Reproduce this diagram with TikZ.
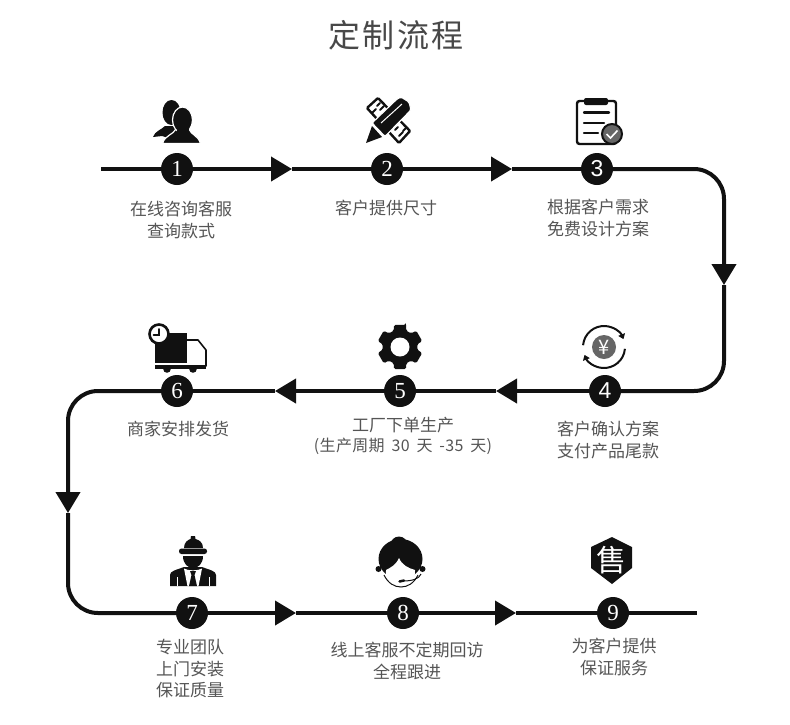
\documentclass[tikz,border=0pt]{standalone}
\usepackage{fontspec}
\setmainfont{Noto Sans CJK SC}
\newfontfamily\titlefont[LetterSpace=7]{Noto Sans CJK SC}
\newfontfamily\notefont[LetterSpace=2]{Noto Sans CJK SC}
\newfontfamily\digitfont{Liberation Serif}
\newfontfamily\sansdigit{Liberation Sans}
\usetikzlibrary{arrows.meta,positioning}
\definecolor{inkblack}{HTML}{111111}
\definecolor{labelgray}{HTML}{555555}
\definecolor{badgegray}{HTML}{666666}
\tikzset{
  stepdot/.style={
    circle,
    fill=inkblack,
    text=white,
    inner sep=0pt,
    minimum size=32pt,
    font=\digitfont\fontsize{23}{23}\selectfont
  },
  stepsans/.style={
    stepdot,
    font=\sansdigit\fontsize{23}{23}\selectfont
  },
  steplabel/.style={
    align=center,
    inner sep=0pt,
    text=labelgray,
    font=\fontsize{17}{21.5}\selectfont
  },
  flowline/.style={
    line width=4pt,
    draw=inkblack
  },
  flowarrow/.style={
    flowline,
    -{Triangle[length=21pt,width=24pt]}
  },
  iconfill/.style={
    fill=inkblack,
    draw=none
  },
  iconline/.style={
    draw=inkblack,
    line width=2.4pt,
    line cap=round
  },
  halo/.style={
    fill=inkblack,
    draw=white,
    line width=1.2pt
  }
}
\begin{document}
\begin{tikzpicture}[x=1pt,y=-1pt,on grid]
  \useasboundingbox (0,0) rectangle (790,724);
  \node[text=labelgray!85!black, inner sep=0pt, font=\titlefont\fontsize{32}{32}\selectfont] (title) at (396,35) {定制流程};

  \node[stepdot] (step1) at (177,169) {1};
  \node[stepdot, right=210pt of step1] (step2) {2};
  \node[stepsans, right=210pt of step2] (step3) {3};
  \node[stepsans, below=222pt of step3, xshift=8pt] (step4) {4};
  \node[stepdot, left=205pt of step4] (step5) {5};
  \node[stepdot, left=223pt of step5] (step6) {6};
  \node[stepdot, below=222pt of step6, xshift=15pt] (step7) {7};
  \node[stepdot, right=211pt of step7] (step8) {8};
  \node[stepdot, right=210pt of step8] (step9) {9};

  \node[steplabel, below=51pt of step1, xshift=4pt] (label1) {在线咨询客服\\查询款式};
  \node[steplabel, below=39pt of step2, xshift=-1pt] (label2) {客户提供尺寸};
  \node[steplabel, below=49pt of step3, xshift=1pt] (label3) {根据客户需求\\免费设计方案};
  \node[steplabel, below=49pt of step4, xshift=3pt] (label4) {客户确认方案\\支付产品尾款};
  \node[steplabel, below=45pt of step5, xshift=3pt] (label5) {工厂下单生产\\[-1pt]{\notefont\fontsize{16}{20}\selectfont (生产周期\hspace{3pt} 30\hspace{3pt} 天\hspace{3pt} -35\hspace{3pt} 天)}};
  \node[steplabel, below=38pt of step6, xshift=1pt] (label6) {商家安排发货};
  \node[steplabel, below=56pt of step7, xshift=-2pt] (label7) {专业团队\\上门安装\\保证质量};
  \node[steplabel, below=48pt of step8, xshift=4pt] (label8) {线上客服不定期回访\\全程跟进};
  \node[steplabel, below=44pt of step9, xshift=1pt] (label9) {为客户提供\\保证服务};

  \coordinate (linestart) at (101,169);
  \coordinate (lineend) at (697,613);
  \coordinate (tip1) at (292,169);
  \coordinate (tip2) at (512,169);
  \coordinate (corner1) at (724,169);
  \coordinate (tip3) at (724,285);
  \coordinate (corner2) at (724,391);
  \coordinate (tip4) at (496,391);
  \coordinate (tip5) at (275,391);
  \coordinate (corner3) at (68,391);
  \coordinate (tip6) at (68,513);
  \coordinate (corner4) at (68,613);
  \coordinate (tip7) at (296,613);
  \coordinate (tip8) at (516,613);

  \draw[flowline] (linestart) -- (step1);
  \draw[flowarrow] (step1) -- (tip1);
  \draw[flowline] (tip1) -- (step2);
  \draw[flowarrow] (step2) -- (tip2);
  \draw[flowline] (tip2) -- (step3);
  \draw[flowarrow, rounded corners=30pt] (step3) -- (corner1) -- (tip3);
  \draw[flowline, rounded corners=30pt] (tip3) -- (corner2) -- (step4);
  \draw[flowarrow] (step4) -- (tip4);
  \draw[flowline] (tip4) -- (step5);
  \draw[flowarrow] (step5) -- (tip5);
  \draw[flowline] (tip5) -- (step6);
  \draw[flowarrow, rounded corners=30pt] (step6) -- (corner3) -- (tip6);
  \draw[flowline, rounded corners=30pt] (tip6) -- (corner4) -- (step7);
  \draw[flowarrow] (step7) -- (tip7);
  \draw[flowline] (tip7) -- (step8);
  \draw[flowarrow] (step8) -- (tip8);
  \draw[flowline] (tip8) -- (step9);
  \draw[flowline] (step9) -- (lineend);

  % people
  \fill[iconfill] (153,137) .. controls (155,131) and (161,130) .. (165,126) -- (178,126) -- (178,141) -- (162,136) -- cycle;
  \fill[iconfill] (171.5,112.5) ellipse (9 and 12.5);
  \filldraw[halo] (162.5,143.5) .. controls (165,135) and (173,135) .. (176,129) -- (189,129) .. controls (191,135) and (198,135) .. (200.5,143.5) -- cycle;
  \filldraw[halo] (182.5,120) ellipse (10 and 13);
  \fill[iconfill] (176.5,126) rectangle (188.5,135);

  % ruler and pencil
  \filldraw[fill=white, iconline, rounded corners=1pt] (367,108) -- (378,98) -- (410,131) -- (399,143) -- cycle;
  \draw[iconline, line width=2pt] (372,113) -- (376,109) (377,106) -- (380,103) (380,110) -- (384,106);
  \draw[iconline, line width=2pt] (399,136) -- (403,132) (395,130) -- (398,127) (403,131) -- (406,128);
  \filldraw[halo, rounded corners=1.5pt] (372,123) -- (397,99) -- (401,97) -- (409,102) -- (411,110) -- (385,136.5) -- cycle;
  \fill[iconfill] (372,126) -- (382,137) -- (366,143) -- cycle;
  \draw[white, line width=1pt] (381,123) -- (402,104);

  % clipboard
  \draw[iconline, rounded corners=2.5pt] (584,101) -- (577,101) -- (577,144) -- (616,144) -- (616,101) -- (608,101);
  \fill[iconfill, rounded corners=2pt] (584,98) rectangle (608,105);
  \draw[iconline] (584,112.5) -- (609,112.5) (584,123) -- (604,123) (584,133) -- (598,133);
  \filldraw[fill=badgegray, draw=inkblack, line width=2pt] (612,134) circle (10);
  \draw[white, line width=1.6pt] (606.5,134) -- (610.5,138) -- (617.5,130.5);

  % payment
  \fill[badgegray] (604,347) circle (12);
  \node[text=white, inner sep=0pt, font=\fontsize{20}{20}\selectfont] (yen) at (604,347) {¥};
  \draw[iconline, line width=2pt, line cap=butt, -{Triangle[length=5pt,width=7pt]}] (604,347) ++(175:21pt) arc[start angle=175, end angle=22, radius=21pt];
  \draw[iconline, line width=2pt, line cap=butt, -{Triangle[length=5pt,width=7pt]}] (604,347) ++(-5:21pt) arc[start angle=-5, end angle=-158, radius=21pt];

  % gear
  \begin{scope}[shift={(400,347)}]
    \fill[iconfill, rounded corners=1.5pt] (75:23pt)
      \foreach \tooth in {90,150,210,270,330,390} {
        -- (\tooth+15:23pt) -- (\tooth+21:17.5pt) -- (\tooth+39:17.5pt) -- (\tooth+45:23pt)
      } -- cycle;
    \fill[white] (0,0) circle (9.5);
  \end{scope}

  % truck
  \fill[iconfill] (155,333) rectangle (187,363);
  \fill[iconfill] (155,365) rectangle (206,368.5);
  \draw[iconline, line width=1.6pt, line join=round] (187,340) -- (198,340) -- (206,350) -- (206,366);
  \fill[iconfill] (167,369) circle (3.8) (193,369) circle (3.8);
  \filldraw[fill=white, draw=inkblack, line width=2.6pt] (159,334) circle (9.5);
  \draw[iconline, line width=1.6pt] (159,329) -- (159,335) -- (153.5,335);

  % worker
  \fill[iconfill] (184,548) .. controls (184,542) and (188,540) .. (190.5,539) -- (191,536) -- (195,536) -- (195.5,539) .. controls (199,540) and (203,542) .. (203,548) -- cycle;
  \fill[iconfill, rounded corners=2.5pt] (179,548.5) rectangle (207,554);
  \fill[iconfill] (183,556) -- (203,556) .. controls (203,564) and (198,568) .. (193,568) .. controls (188,568) and (183,564) .. (183,556) -- cycle;
  \fill[iconfill] (170,586) -- (170,575) .. controls (170,571) and (176,570) .. (184,567) -- (202,567) .. controls (210,570) and (216,571) .. (216,575) -- (216,586) -- cycle;
  \fill[white] (184,568.5) .. controls (188,571) and (198,571) .. (202,568.5) -- (198.5,586) -- (187.5,586) -- cycle;
  \fill[iconfill] (190,571) -- (196,571) -- (194.5,575) -- (197,586) -- (189,586) -- (191.5,575) -- cycle;
  \draw[white, line width=.9pt] (177,577) -- (177,586) (209,577) -- (209,586);

  % agent
  \fill[iconfill] (399,545) circle (8.5);
  \fill[iconfill] (400.5,559) ellipse (22 and 20);
  \fill[iconfill] (378.5,569) circle (3) (422.5,569) circle (3);
  \fill[white] (399,558) .. controls (396,565) and (390,568) .. (386,570) .. controls (385,580) and (392,586) .. (400,586) .. controls (408,586) and (416,580) .. (415,570) .. controls (408,568) and (402,565) .. (399,558) -- cycle;
  \draw[inkblack, line width=1pt] (384,575) .. controls (388,583) and (394,587) .. (401,587) .. controls (408,587) and (414,583) .. (418,575);
  \draw[inkblack, line width=1pt] (421,574) .. controls (419,579) and (412,581) .. (403,581);
  \draw[inkblack, line width=2.5pt, line cap=round] (399.5,581.5) -- (404,580.5);

  % after-sales shield
  \fill[iconfill, line join=round] (612,537) -- (632,547) -- (632,568) -- (612,584) -- (591,568) -- (591,547) -- cycle;
  \node[text=white, inner sep=0pt, font=\fontsize{30}{30}\selectfont] (shieldmark) at (611.5,560) {售};
\end{tikzpicture}
\end{document}
